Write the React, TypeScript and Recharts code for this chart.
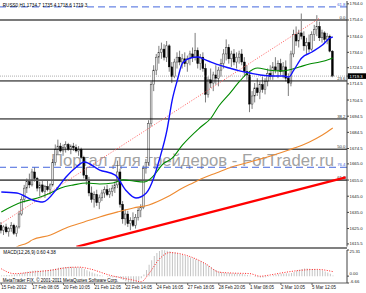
import React from 'react';
import { ComposedChart, Bar, Line, XAxis, YAxis, ReferenceLine } from 'recharts';

// ---- candles (H1) ----
const opens = [1627,1624,1626,1623,1625,1627,1622,1626,1634,1643,1650,1654,1652,1660,1656,1650,1652,1648,1651,1649,1652,1666,1674,1676,1673,1675,1677,1674,1676,1675,1673,1674,1669,1658,1655,1647,1643,1646,1641,1644,1647,1649,1646,1648,1650,1652,1660,1640,1631,1634,1628,1630,1627,1632,1636,1638,1662,1666,1690,1714,1723,1731,1734,1736,1731,1738,1725,1719,1728,1731,1728,1730,1727,1730,1733,1731,1735,1727,1731,1724,1708,1717,1715,1720,1718,1723,1727,1733,1737,1730,1733,1728,1731,1733,1728,1722,1720,1702,1707,1712,1709,1714,1711,1716,1721,1719,1725,1723,1727,1722,1725,1718,1715,1733,1745,1741,1746,1744,1738,1740,1736,1745,1748,1750,1743,1746,1742,1744,1734.7];
const highs = [1629,1627,1628,1626,1629,1628,1627,1636,1645,1652,1656,1659,1662,1663,1657,1654,1655,1652,1655,1653,1668,1677,1680,1678,1677,1679,1678,1677,1678,1677,1676,1675,1670,1663,1657,1651,1648,1649,1646,1649,1651,1652,1650,1652,1654,1667,1662,1642,1637,1636,1632,1635,1634,1638,1640,1664,1668,1692,1716,1726,1733,1738,1740,1739,1741,1739,1728,1730,1734,1735,1733,1734,1732,1735,1737,1746,1737,1733,1734,1727,1719,1724,1722,1726,1725,1730,1736,1742,1739,1735,1736,1734,1735,1736,1731,1726,1722,1710,1715,1718,1716,1719,1718,1724,1726,1728,1731,1729,1730,1728,1729,1721,1735,1748,1750,1748,1758,1747,1743,1745,1747,1751,1757,1753,1748,1747,1746,1745,1735.4];
const lows = [1622,1621,1622,1620,1623,1621,1620,1625,1633,1641,1647,1650,1651,1654,1648,1645,1647,1644,1648,1646,1651,1664,1671,1672,1670,1672,1673,1671,1673,1672,1670,1668,1656,1652,1645,1641,1638,1639,1637,1642,1644,1645,1644,1645,1647,1650,1638,1628,1627,1626,1624,1626,1625,1630,1632,1637,1659,1664,1688,1710,1720,1727,1730,1729,1728,1722,1715,1718,1724,1726,1724,1725,1722,1726,1728,1729,1724,1723,1722,1703,1706,1712,1710,1714,1713,1719,1724,1729,1727,1725,1726,1724,1727,1726,1719,1717,1697,1699,1703,1707,1705,1709,1708,1713,1717,1717,1721,1718,1720,1718,1716,1707,1713,1731,1738,1737,1742,1735,1733,1734,1735,1741,1744,1741,1740,1740,1739,1734,1718.6];
const closes = [1624,1626,1623,1625,1627,1622,1626,1634,1643,1650,1654,1652,1660,1656,1650,1652,1648,1651,1649,1652,1666,1674,1676,1673,1675,1677,1674,1676,1675,1673,1674,1669,1658,1655,1647,1643,1646,1641,1644,1647,1649,1646,1648,1650,1652,1660,1640,1631,1634,1628,1630,1627,1632,1636,1638,1662,1666,1690,1714,1723,1731,1734,1736,1731,1738,1725,1719,1728,1731,1728,1730,1727,1730,1733,1731,1735,1727,1731,1724,1708,1717,1715,1720,1718,1723,1727,1733,1737,1730,1733,1728,1731,1733,1728,1722,1720,1702,1707,1712,1709,1714,1711,1716,1721,1719,1725,1723,1727,1722,1725,1718,1715,1733,1745,1741,1746,1744,1738,1740,1736,1745,1748,1750,1743,1746,1742,1744,1734.7,1719.3];

// ---- moving averages, read at selected bars [barIndex, price] ----
const blueMA: [number, number][] = [[0,1647.6],[6,1647.0],[12,1642.7],[16,1641.4],[22,1650.7],[25,1656.9],[29,1663.1],[32,1666.2],[38,1661.2],[44,1658.1],[48,1648.9],[52,1643.9],[56,1647.0],[59,1656.9],[61,1667.4],[64,1686.0],[66,1704.5],[68,1716.9],[70,1727.4],[73,1730.5],[76,1731.1],[78,1729.9],[81,1728.0],[84,1726.2],[88,1724.3],[92,1722.5],[96,1721.2],[100,1720.0],[105,1719.4],[109,1719.4],[111,1718.7],[113,1723.1],[116,1730.5],[120,1734.2],[124,1738.5],[127,1742.9],[128,1743.5]];
const greenMA: [number, number][] = [[0,1635.3],[8,1641.4],[14,1643.9],[19,1647.0],[23,1650.1],[28,1652.0],[33,1653.2],[38,1652.6],[43,1653.2],[47,1655.1],[51,1654.4],[55,1653.8],[58,1656.3],[60,1660.0],[62,1664.3],[66,1668.5],[70,1676.7],[77,1687.8],[81,1693.4],[84,1700.8],[88,1708.2],[92,1716.0],[95,1721.0],[99,1724.3],[103,1723.1],[108,1722.5],[111,1723.1],[115,1724.9],[119,1726.8],[123,1728.0],[127,1729.9],[128,1730.5]];
const orangeMA: [number, number][] = [[4,1611.5],[6,1613.6],[10,1616.1],[12,1618.0],[19,1621.0],[25,1625.4],[32,1629.1],[38,1632.2],[45,1635.3],[51,1637.7],[57,1639.6],[64,1644.5],[70,1650.1],[74,1653.2],[78,1656.3],[83,1659.4],[89,1663.1],[96,1666.2],[104,1669.9],[111,1673.6],[119,1678.6],[124,1682.9],[128,1687.2]];
const trendLine: [number, number][] = [[29,1613.7],[133,1656.7]];
const fibDiagonal: [number, number][] = [[0,1628.2],[123,1755.2]];

// ---- horizontal levels ----
const fibPrices = [1754.0, 1716.3, 1692.8, 1674.1, 1655.0];
const fibNames = ['0.0', '23.6', '38.2', '50.0', '61.8'];
const expPrices = [1762.1, 1662.9];
const expNames = ['61.8', '76.4'];
const bidPrice = 1719.3;

// ---- MACD(12,26,9) ----
const macdHist = [0.5,0.8,1.0,1.2,1.4,1.5,1.8,2.3,3.0,3.6,4.2,4.8,5.3,5.5,5.4,5.3,5.6,5.8,6.0,6.3,6.8,7.4,8.0,8.4,8.7,8.9,9.0,9.0,8.9,8.7,8.5,8.0,7.0,5.8,4.6,3.6,2.6,1.8,1.0,0.4,0.0,-0.6,-1.0,-1.3,-1.2,-1.0,-2.2,-3.8,-5.0,-5.8,-6.4,-6.66,-6.0,-4.5,-2.0,1.5,6.0,11.0,15.5,19.5,22.5,24.3,25.31,25.0,24.6,24.0,23.4,22.8,22.0,21.2,20.5,19.8,19.0,18.0,17.2,16.4,15.5,14.5,13.0,11.5,10.0,8.5,7.0,5.8,4.6,3.8,3.2,3.0,3.0,2.8,2.6,2.5,2.3,2.0,1.6,1.2,0.6,-0.2,-0.8,-1.2,-1.4,-1.3,-1.0,-0.5,0.2,0.8,1.4,1.8,2.2,2.5,2.8,2.6,3.0,4.0,5.2,6.2,6.9,7.3,7.4,7.2,7.0,6.8,6.5,6.0,5.4,4.6,3.6,2.2,0.6];
const macdSignal: [number, number][] = [[0,7.1],[5,2.4],[12,3.9],[20,6.0],[25,8.1],[30,8.7],[34,7.1],[42,0.8],[47,-2.0],[51,-3.9],[54,-5.5],[57,2.4],[61,16.5],[65,22.8],[67,22.5],[72,19.7],[79,11.8],[84,3.9],[89,3.0],[96,2.4],[100,-0.1],[103,0.8],[109,3.4],[115,5.5],[122,6.5],[128,4.4]];

// ---- axes ----
const SLOTS = 134;
const xTickIdx = [0, 12, 24, 36, 48, 60, 72, 84, 96, 108, 120];
const xTickLabels = ['15 Feb 2012', '17 Feb 08:05', '20 Feb 10:05', '21 Feb 12:05', '22 Feb 14:05', '24 Feb 16:05', '27 Feb 18:05', '28 Feb 20:05', '1 Mar 08:05', '2 Mar 10:05', '5 Mar 12:05'];
const priceTicks = [1764, 1754, 1744, 1734, 1724.5, 1719.3, 1714.5, 1704.5, 1694.5, 1684.5, 1674.5, 1665, 1655, 1645, 1635, 1625, 1615.5];
const macdTicks = [25.31, 0, -6.66];
const headerText = 'RUSS0,H1  1734.7 1735.4 1718.6 1719.3';
const macdText = 'MACD(12,26,9) 0.60 4.38';
const copyText = 'MetaTrader FIX, \u00a9 2001-2011 MetaQuotes Software Corp.';
const watermark = 'Портал для трейдеров - ForTrader.ru';

const sparse = (pts: [number, number][]) => {
  const a: (number | null)[] = new Array(SLOTS).fill(null);
  pts.forEach(([i, v]) => { a[i] = v; });
  return a;
};
const blueArr = sparse(blueMA);
const greenArr = sparse(greenMA);
const orangeArr = sparse(orangeMA);
const trendArr = sparse(trendLine);
const diagArr = sparse(fibDiagonal);
const sigArr = sparse(macdSignal);

const rows = Array.from({ length: SLOTS }, (_, i) => {
  const has = i < opens.length;
  return {
    idx: i,
    o: has ? opens[i] : null,
    h: has ? highs[i] : null,
    l: has ? lows[i] : null,
    c: has ? closes[i] : null,
    range: has ? [lows[i], highs[i]] : null,
    blue: blueArr[i],
    green: greenArr[i],
    orange: orangeArr[i],
    trend: trendArr[i],
    diag: diagArr[i],
    hist: i < macdHist.length ? macdHist[i] : null,
    signal: sigArr[i],
  };
});

const FONT = '"Liberation Sans", Arial, sans-serif';

const Candle = (props: any) => {
  const { x, y, width, height, payload } = props;
  if (!payload || payload.o == null || x == null || y == null) return null;
  const { o, h, l, c } = payload;
  const top = Math.min(y, y + height);
  const hh = Math.abs(height);
  const span = h - l;
  const r = span > 0 ? hh / span : 0;
  const cx = x + width / 2;
  const bTop = top + (h - Math.max(o, c)) * r;
  const bBot = top + (h - Math.min(o, c)) * r;
  const bull = c >= o;
  return (
    <g>
      <line x1={cx} x2={cx} y1={top} y2={top + hh} stroke="#444" strokeWidth={0.7} />
      <rect x={x} y={bTop} width={width} height={Math.max(bBot - bTop, 0.6)}
        fill={bull ? '#e8e8e8' : '#000'} stroke={bull ? '#333' : '#000'} strokeWidth={0.45} />
    </g>
  );
};

const PriceTick = (props: any) => {
  const { x, y, payload } = props;
  const v = payload.value as number;
  const txt = v.toFixed(1);
  if (v === bidPrice) {
    return (
      <g>
        <rect x={x - 1.6} y={y - 2.8} width={19} height={5.6} fill="#000" />
        <text x={x} y={y} dominantBaseline="central" fontSize={4.3} fontFamily={FONT} fill="#fff">{txt}</text>
      </g>
    );
  }
  return <text x={x} y={y} dominantBaseline="central" fontSize={4.3} fontFamily={FONT} fill="#222">{txt}</text>;
};

const MacdTick = (props: any) => {
  const { x, y, payload } = props;
  const v = payload.value as number;
  const off = v > 1 ? 1.2 : v < -1 ? -1.4 : -2.4;
  return <text x={x} y={y + off} dominantBaseline="central" fontSize={4.3} fontFamily={FONT} fill="#222">{v.toFixed(2)}</text>;
};

const TimeTick = (props: any) => {
  const { x, y, payload } = props;
  const k = xTickIdx.indexOf(payload.value);
  if (k < 0) return null;
  return <text x={x} y={y} dy={3.3} textAnchor="start" fontSize={4.5} fontFamily={FONT} fill="#222">{xTickLabels[k]}</text>;
};

const levelLabel = (text: string, color: string) => (props: any) => {
  const vb = props.viewBox || {};
  if (vb.x == null) return null;
  return (
    <text x={vb.x + vb.width - 1.5} y={vb.y - 0.8} textAnchor="end" fontSize={4.3} fontFamily={FONT} fill={color}>{text}</text>
  );
};

export default function App() {
  return (
    <div style={{ position: 'absolute', left: 0, top: 0, width: 366, height: 293, background: '#fff', overflow: 'hidden' }}>
      <svg width={366} height={293} style={{ position: 'absolute', left: 0, top: 0 }}>
        <text x={51} y={165.5} fontSize={16.2} fontFamily={FONT} fill="#a2a2a2" textLength={283} lengthAdjust="spacingAndGlyphs">{watermark}</text>
      </svg>
      <div style={{ position: 'absolute', left: 0, top: 0 }}>
        <ComposedChart width={366} height={247} data={rows} margin={{ top: 1, right: 0, bottom: 0.5, left: 0 }}>
          <XAxis dataKey="idx" type="category" hide />
          <YAxis orientation="right" width={19} domain={[1613.9, 1765.75]} allowDataOverflow ticks={priceTicks}
            interval={0} tick={<PriceTick />} tickSize={2} tickMargin={0.5}
            axisLine={{ stroke: '#404040' }} tickLine={{ stroke: '#404040' }} />
          {expPrices.map((p, k) => (
            <ReferenceLine key={'e' + k} y={p} stroke="#4466dd" strokeWidth={1} strokeDasharray="7 4"
              label={levelLabel(expNames[k], '#4466dd')} />
          ))}
          {fibPrices.map((p, k) => {
            const edge = k === 0 || k === fibPrices.length - 1;
            return (
              <ReferenceLine key={'f' + k} y={p} stroke={edge ? (k === 0 ? '#7a7a7a' : '#5a5a5a') : '#000'}
                strokeWidth={edge ? 1.8 : 1} label={levelLabel(fibNames[k], '#333')} />
            );
          })}
          <ReferenceLine y={bidPrice} stroke="#9a9a9a" strokeWidth={0.8} strokeDasharray="1 1" />
          <Bar dataKey="range" barSize={1.8} shape={<Candle />} isAnimationActive={false} />
          <Line dataKey="diag" type="linear" connectNulls dot={false} stroke="#ff5a5a" strokeWidth={1}
            strokeDasharray="1 1.6" isAnimationActive={false} />
          <Line dataKey="orange" type="monotone" connectNulls dot={false} stroke="#ee8a30" strokeWidth={1.1} isAnimationActive={false} />
          <Line dataKey="green" type="monotone" connectNulls dot={false} stroke="#008a00" strokeWidth={1.1} isAnimationActive={false} />
          <Line dataKey="trend" type="linear" connectNulls dot={false} stroke="#ff0000" strokeWidth={2.4} isAnimationActive={false} />
          <Line dataKey="blue" type="monotone" connectNulls dot={false} stroke="#1010ff" strokeWidth={1.4} isAnimationActive={false} />
        </ComposedChart>
      </div>
      <div style={{ position: 'absolute', left: 0, top: 246.5, width: 347, height: 2, background: '#808080' }} />
      <div style={{ position: 'absolute', left: 0, top: 249 }}>
        <ComposedChart width={366} height={44} data={rows} margin={{ top: 1, right: 0, bottom: 0, left: 0 }}>
          <XAxis dataKey="idx" type="category" ticks={xTickIdx} interval={0} height={10} tick={<TimeTick />}
            tickSize={2} tickMargin={1} axisLine={{ stroke: '#606060' }} tickLine={{ stroke: '#606060' }} />
          <YAxis orientation="right" width={19} domain={[-6.66, 25.31]} allowDataOverflow ticks={macdTicks}
            interval={0} tick={<MacdTick />} tickSize={2} tickMargin={0.5}
            axisLine={{ stroke: '#404040' }} tickLine={{ stroke: '#404040' }} />
          <Bar dataKey="hist" barSize={1} fill="#c4c4c4" isAnimationActive={false} />
          <Line dataKey="signal" type="monotone" connectNulls dot={false} stroke="#ff2020" strokeWidth={1}
            strokeDasharray="1 1.5" isAnimationActive={false} />
        </ComposedChart>
      </div>
      <svg width={366} height={293} style={{ position: 'absolute', left: 0, top: 0, pointerEvents: 'none' }}>
        <text x={2.7} y={6.6} fontSize={4.6} fontFamily={FONT} fill="#000" textLength={84.6} lengthAdjust="spacingAndGlyphs">{headerText}</text>
        <text x={3.3} y={254} fontSize={4.6} fontFamily={FONT} fill="#000" textLength={52.4} lengthAdjust="spacingAndGlyphs">{macdText}</text>
        <text x={2.7} y={282.3} fontSize={4.6} fontFamily={FONT} fill="#000" textLength={115.6} lengthAdjust="spacingAndGlyphs">{copyText}</text>
      </svg>
    </div>
  );
}
